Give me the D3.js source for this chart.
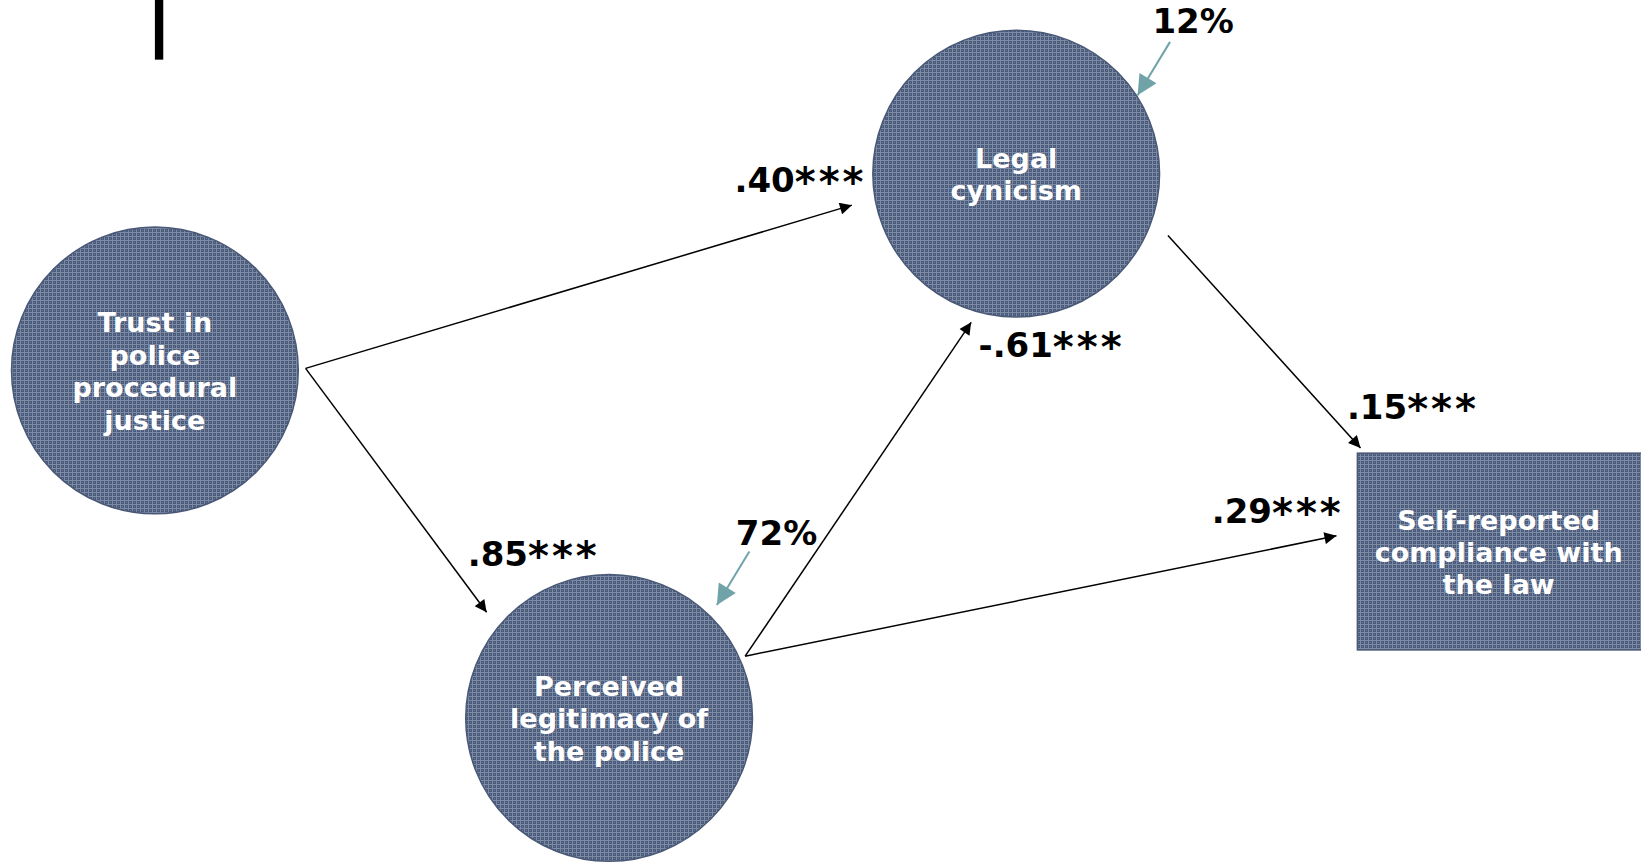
<!DOCTYPE html>
<html>
<head>
<meta charset="utf-8">
<script src="https://cdn.jsdelivr.net/npm/d3@7"></script>
<style>
  body { margin: 0; background: #fff; }
  svg { display: block; }
  .node-label { font-family: "DejaVu Sans", Verdana, sans-serif; font-weight: bold; fill: #fff; font-size: 27px; }
  .coef { font-family: "DejaVu Sans", Verdana, sans-serif; font-weight: bold; fill: #000; font-size: 34px; }
  .stars { font-size: 40px; letter-spacing: 3px; }
</style>
</head>
<body>
<svg id="diagram"></svg>
<script>
// node names (lines of text) and shapes
var nodeIds = ["trust", "legit", "cynic", "comply"];
var nodeLines = [
    ["Trust in", "police", "procedural", "justice"],
    ["Perceived", "legitimacy of", "the police"],
    ["Legal", "cynicism"],
    ["Self-reported", "compliance with", "the law"]
];
var nodeShapes = ["circle", "circle", "circle", "rect"];

// paths and their standardised coefficients
var edgeFrom = ["trust", "trust", "legit", "legit", "cynic"];
var edgeTo = ["cynic", "legit", "cynic", "comply", "comply"];
var edgeCoef = [".40***", ".85***", "-.61***", ".29***", ".15***"];

// explained variance
var r2Nodes = ["cynic", "legit"];
var r2Values = ["12%", "72%"];

var width = 1641, height = 865;
// layout below is measured on a 1568 px wide copy of the figure
var x = d3.scaleLinear().domain([0, 1568]).range([0, width]);
var y = d3.scaleLinear().domain([0, 1568]).range([0, width]);
function len(v) { return x(v) - x(0); }

var layout = {
    trust: { cx: 148, cy: 354, r: 137 },
    legit: { cx: 582, cy: 686, r: 137 },
    cynic: { cx: 971, cy: 166, r: 137 },
    comply: { x0: 1297, y0: 433, x1: 1572, y1: 621 }
};
var edgeLayout = [
    { x1: 292, y1: 352, x2: 814, y2: 196, lx: 828, ly: 183, anchor: "end" },
    { x1: 292, y1: 352, x2: 465, y2: 585, lx: 447, ly: 541, anchor: "start" },
    { x1: 712, y1: 627, x2: 928, y2: 308, lx: 935, ly: 341, anchor: "start" },
    { x1: 712, y1: 627, x2: 1277, y2: 512, lx: 1284, ly: 500, anchor: "end" },
    { x1: 1116, y1: 225, x2: 1300, y2: 428, lx: 1287, ly: 400, anchor: "start" }
];
var r2Layout = [
    { x1: 1118, y1: 40, x2: 1087, y2: 91, lx: 1140, ly: 32 },
    { x1: 716, y1: 527, x2: 685, y2: 578, lx: 742, ly: 521 }
];

var svg = d3.select("#diagram")
    .attr("width", width)
    .attr("height", height);

var defs = svg.append("defs");
var pat = defs.append("pattern")
    .attr("id", "grid")
    .attr("patternUnits", "userSpaceOnUse")
    .attr("width", 4)
    .attr("height", 4);
pat.append("rect").attr("width", 4).attr("height", 4).attr("fill", "#4a5a7b");
pat.append("rect").attr("x", 0).attr("y", 0).attr("width", 4).attr("height", 1).attr("fill", "#7d8ba4");
pat.append("rect").attr("x", 0).attr("y", 0).attr("width", 1).attr("height", 4).attr("fill", "#7d8ba4");
pat.append("rect").attr("x", 2).attr("y", 2).attr("width", 1).attr("height", 1).attr("fill", "#6a7894");

defs.append("marker")
    .attr("id", "head")
    .attr("viewBox", "0 0 10 10")
    .attr("refX", 10).attr("refY", 5)
    .attr("markerWidth", 10).attr("markerHeight", 8)
    .attr("markerUnits", "strokeWidth")
    .attr("orient", "auto")
    .append("path").attr("d", "M0,0L10,5L0,10Z").attr("fill", "#000");

defs.append("marker")
    .attr("id", "tealhead")
    .attr("viewBox", "0 0 10 10")
    .attr("refX", 10).attr("refY", 5)
    .attr("markerWidth", 11).attr("markerHeight", 10)
    .attr("markerUnits", "strokeWidth")
    .attr("orient", "auto")
    .append("path").attr("d", "M0,0L10,5L0,10Z").attr("fill", "#6fa3a8");

// black bar at top left
svg.append("rect")
    .attr("x", x(148)).attr("y", y(0))
    .attr("width", len(8)).attr("height", len(57))
    .attr("fill", "#000");

// nodes
nodeIds.forEach(function(id, i) {
    var L = layout[id], g = svg.append("g"), cx, cy;
    if (nodeShapes[i] == "circle") {
        cx = L.cx; cy = L.cy;
        g.append("circle")
            .attr("cx", x(cx)).attr("cy", y(cy)).attr("r", len(L.r))
            .attr("fill", "url(#grid)")
            .attr("stroke", "#485876").attr("stroke-width", 1.5);
    } else {
        cx = (L.x0 + L.x1) / 2; cy = (L.y0 + L.y1) / 2;
        g.append("rect")
            .attr("x", x(L.x0)).attr("y", y(L.y0))
            .attr("width", x(L.x1) - x(L.x0)).attr("height", y(L.y1) - y(L.y0))
            .attr("fill", "url(#grid)")
            .attr("stroke", "#485876").attr("stroke-width", 1.5);
        cx = 1432;
    }
    var lines = nodeLines[i], lh = 31;
    lines.forEach(function(t, j) {
        g.append("text")
            .attr("class", "node-label")
            .attr("x", x(cx))
            .attr("y", y(cy + (j - (lines.length - 1) / 2) * lh + 10))
            .attr("text-anchor", "middle")
            .text(t);
    });
});

// paths
edgeFrom.forEach(function(s, i) {
    var e = edgeLayout[i];
    svg.append("line")
        .attr("x1", x(e.x1)).attr("y1", y(e.y1))
        .attr("x2", x(e.x2)).attr("y2", y(e.y2))
        .attr("stroke", "#000").attr("stroke-width", 1.5)
        .attr("marker-end", "url(#head)");
    var num = edgeCoef[i].replace(/\*+$/, ""), stars = edgeCoef[i].slice(num.length);
    var t = svg.append("text")
        .attr("class", "coef")
        .attr("x", x(e.lx)).attr("y", y(e.ly))
        .attr("text-anchor", e.anchor);
    t.append("tspan").text(num);
    t.append("tspan").attr("class", "stars").attr("dy", 4).text(stars);
});

// R squared arrows
r2Nodes.forEach(function(n, i) {
    var e = r2Layout[i];
    svg.append("line")
        .attr("x1", x(e.x1)).attr("y1", y(e.y1))
        .attr("x2", x(e.x2)).attr("y2", y(e.y2))
        .attr("stroke", "#6fa3a8").attr("stroke-width", 2)
        .attr("marker-end", "url(#tealhead)");
    svg.append("text")
        .attr("class", "coef")
        .attr("x", x(e.lx)).attr("y", y(e.ly))
        .attr("text-anchor", "middle")
        .text(r2Values[i]);
});
</script>
</body>
</html>
